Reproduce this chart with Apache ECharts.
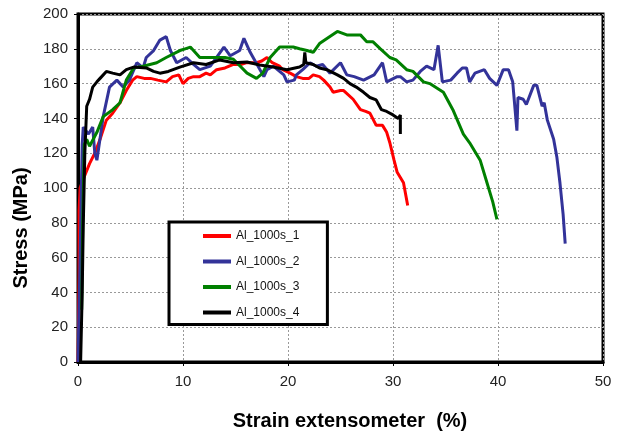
<!DOCTYPE html>
<html>
<head>
<meta charset="utf-8">
<script src="https://cdn.jsdelivr.net/npm/echarts@6/dist/echarts.min.js"></script>
<style>
html,body{margin:0;padding:0;background:#fff;}
#chart{width:618px;height:434px;}
</style>
</head>
<body>
<div id="chart"></div>
<script>
const seriesNames = ["Al_1000s_1", "Al_1000s_2", "Al_1000s_3", "Al_1000s_4"];
const seriesColors = ["#ff0000", "#333399", "#008000", "#000000"];
const xTicks = [0, 10, 20, 30, 40, 50];
const yTicks = [0, 20, 40, 60, 80, 100, 120, 140, 160, 180, 200];

// [strain %, stress MPa]
const red = [[0,0],[0.1,50],[0.1,87],[0.2,100],[0.5,105],[1.1,114],[1.6,120],[2.1,128],[2.7,139],[3.3,143],[4,149],[4.6,156],[5.2,162],[5.6,164],[6.3,163],[6.9,163],[7.6,162],[8.4,161],[9,164],[9.6,165],[10,160],[10.5,163],[11,164],[11.6,164],[12.2,166],[12.6,165],[13.2,168],[14,169],[14.8,171],[15.5,171],[16,172],[17,172],[17.5,173],[18,175],[18.5,172],[19.2,170],[19.5,168],[20.2,166],[20.8,164],[21.4,163],[22,163],[22.4,165],[23,164],[23.4,162],[24,158],[24.3,155],[25,156],[25.3,156],[26.2,151],[26.9,145],[27.4,144],[27.8,143],[28.4,136],[29,136],[29.4,132],[29.7,126],[30.1,116],[30.4,109],[30.7,106],[31,103],[31.4,90]];
const blue = [[0,0],[0.2,60],[0.4,125],[0.5,135],[1.0,131],[1.4,135],[1.6,120],[1.8,116],[2.4,141],[3,158],[3.7,162],[4.3,158],[4.9,162],[5.6,172],[6.2,169],[6.5,175],[7.2,179],[7.8,185],[8.4,187],[8.8,179],[9.4,172],[10.3,175],[11,171],[11.6,168],[12.6,170],[13.9,181],[14.5,176],[15.4,179],[15.8,186],[16.4,178],[17.7,164],[18,168],[18.6,170],[19.6,165],[19.9,161],[20.6,162],[20.8,165],[21.4,168],[22.1,172],[22.7,170],[23.3,171],[24,166],[25,172],[25.6,165],[26.3,164],[27.2,162],[28.2,165],[29,172],[29.4,161],[30.4,164],[30.7,164],[31.3,161],[31.9,162],[32.6,167],[33.2,170],[33.9,168],[34.3,182],[34.7,161],[35.5,162],[36.1,166],[36.6,169],[37,169],[37.3,161],[37.8,166],[38.7,168],[39.2,163],[39.9,159],[40.5,168],[41,168],[41.4,161],[41.8,133],[41.9,152],[42.4,151],[42.7,148],[43.4,159],[43.7,159],[44.2,147],[44.4,149],[44.7,139],[45.3,128],[45.6,118],[45.9,103],[46.2,85],[46.4,68]];
const green = [[0.35,30],[0.45,80],[0.6,125],[0.83,128],[1.1,124],[1.8,132],[2.4,141],[3.3,145],[4,149],[4.6,162],[5.3,169],[6.2,170],[7.5,172],[8.4,175],[9.7,179],[10.2,180],[10.7,181],[11.6,175],[12.9,175],[14,175],[14.8,174],[16.1,166],[17,163],[17.6,166],[18.3,175],[19.2,181],[20.5,181],[21.1,180],[21.8,179],[22.4,178],[23,183],[24.7,190],[25.6,188],[26.9,188],[27.5,184],[28.1,184],[28.8,180],[29.7,175],[30.3,173.6],[31.3,168],[31.9,167],[32.9,161],[33.5,160],[34.8,155],[35.7,145],[36.7,131],[37.3,126],[38.3,116],[38.9,104],[39.5,92],[39.9,82]];
const black = [[0.25,0],[0.4,40],[0.5,78],[0.65,120],[0.83,147],[1.1,151],[1.4,158],[1.8,161],[2.1,163],[2.7,167],[3.3,166],[4,165],[4.6,168],[5.3,169.5],[6.5,169],[7.2,167],[7.8,166],[8.6,167],[9.7,169.5],[11,172],[12.2,171],[13.5,173.6],[14.8,172],[16.1,172.4],[17.3,170.7],[18.6,169.5],[19.9,168],[21.1,169.5],[21.5,171],[21.6,178],[21.7,172],[22.4,171],[23,169],[23.7,168],[24.7,165],[25.3,163],[25.9,160],[26.5,158],[27.2,155],[27.8,152],[28.4,150.6],[28.9,145],[29.4,144],[30,142],[30.5,140],[30.7,142],[30.7,131]];
const allData = [red, blue, green, black];

const chart = echarts.init(document.getElementById('chart'), null, {renderer: 'canvas'});
const font = "'Liberation Sans', Arial, sans-serif";
const titleFont = "bold 20px 'Liberation Sans', Arial, sans-serif";
chart.setOption({
  animation: false,
  backgroundColor: '#ffffff',
  grid: {left: 78, right: 15, top: 14, bottom: 72, show: true, borderColor: '#000', borderWidth: 3, backgroundColor: 'transparent'},
  xAxis: {
    type: 'value', min: xTicks[0], max: xTicks[xTicks.length-1], interval: 10,
    axisLine: {show: true, onZero: false, lineStyle: {color: '#000', width: 3}},
    axisTick: {show: true, length: 4, lineStyle: {color: '#000', width: 1}},
    axisLabel: {color: '#222', fontSize: 15, fontFamily: font, margin: 12},
    splitLine: {show: true, lineStyle: {color: '#999', type: [2, 2], width: 1}}
  },
  yAxis: {
    type: 'value', min: yTicks[0], max: yTicks[yTicks.length-1], interval: 20,
    axisLine: {show: true, onZero: false, lineStyle: {color: '#000', width: 3}},
    axisTick: {show: true, length: 4, lineStyle: {color: '#000', width: 1}},
    axisLabel: {color: '#222', fontSize: 15, fontFamily: font, margin: 10},
    splitLine: {show: true, lineStyle: {color: '#999', type: [2, 2], width: 1}}
  },
  legend: {
    show: true, orient: 'vertical', left: 169, top: 222,
    padding: [8, 28, 6, 34],
    itemWidth: 28, itemHeight: 4, itemGap: 13.5, icon: 'rect',
    itemTextGap: 1,
    selectedMode: false,
    backgroundColor: '#fff', borderColor: '#000', borderWidth: 3, borderRadius: 0,
    textStyle: {color: '#111', fontSize: 12, fontFamily: font},
    data: seriesNames
  },
  graphic: [
    {type: 'text', style: {text: 'Stress (MPa)', font: titleFont, fill: '#000', textAlign: 'center', textVerticalAlign: 'middle'}, x: 21, y: 228, rotation: Math.PI/2},
    {type: 'text', style: {text: 'Strain extensometer  (%)', font: titleFont, fill: '#000', textAlign: 'center', textVerticalAlign: 'middle'}, x: 350, y: 421}
  ],
  series: seriesNames.map((n, i) => ({
    name: n, type: 'line', data: allData[i], showSymbol: false, symbol: 'none',
    lineStyle: {color: seriesColors[i], width: 3}, itemStyle: {color: seriesColors[i]},
    z: 2 + i
  }))
});
</script>
</body>
</html>
